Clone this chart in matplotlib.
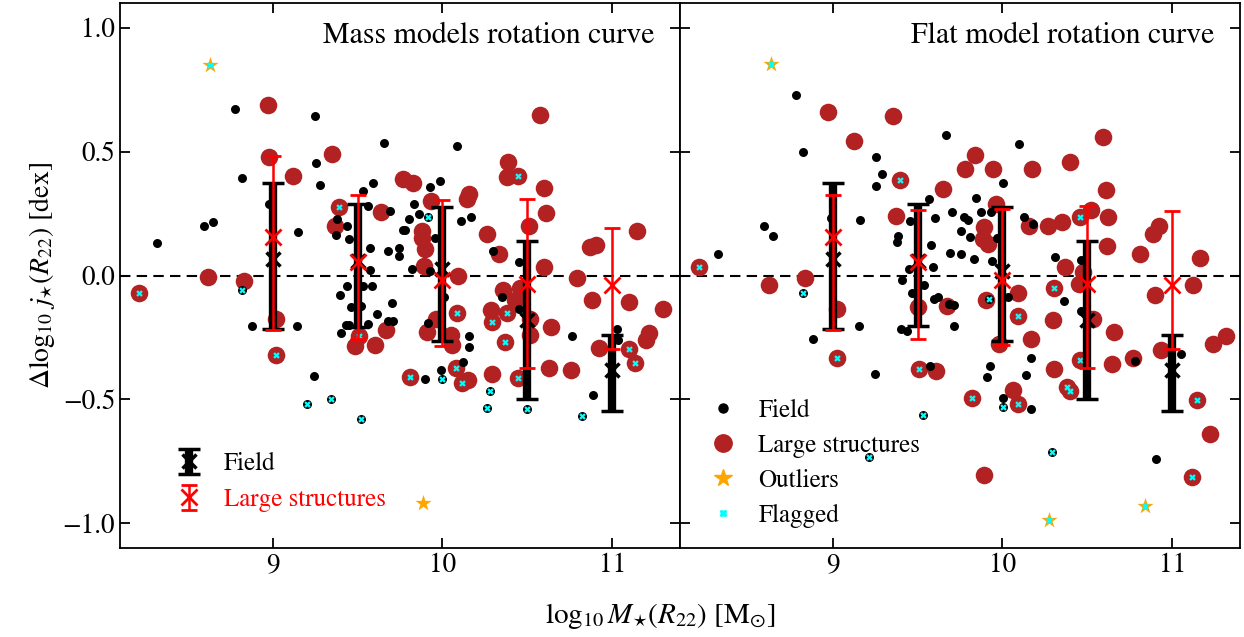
import numpy as np
import matplotlib
matplotlib.use('Agg')
import matplotlib.pyplot as plt
from matplotlib.lines import Line2D

plt.rcParams['font.family'] = 'STIXGeneral'
plt.rcParams['mathtext.fontset'] = 'stix'
plt.rcParams['axes.linewidth'] = 1.3

# ---------------- data: mass models panel ----------------
mm_field_x = [8.32, 8.595, 8.65, 8.78, 8.82, 8.98, 9.15, 8.88, 9.145, 9.246, 9.256, 9.28,
              9.588, 9.53, 9.56, 9.377, 9.44, 9.37, 9.45, 9.69, 9.80, 9.765, 9.78, 9.68,
              9.745, 9.745, 9.57, 9.573, 9.833, 9.86, 9.925, 9.987, 10.11, 10.167, 9.956,
              9.823, 9.927, 10.298, 10.449, 9.44, 9.397, 9.53, 9.585, 9.46, 9.52, 9.70,
              9.616, 9.43, 9.45, 9.40, 9.56, 9.676, 9.706, 9.917, 10.01, 10.155, 10.155,
              10.12, 9.99, 9.897, 9.24, 9.657, 10.085, 10.35, 10.449, 10.765, 11.03,
              11.035, 10.889]
mm_field_y = [0.133, 0.20, 0.215, 0.672, 0.394, 0.29, 0.175, -0.203, -0.204, 0.642, 0.453,
              0.364, 0.375, 0.34, 0.282, 0.228, 0.198, 0.165, 0.148, 0.262, 0.227, 0.183,
              0.183, 0.10, 0.11, 0.077, 0.11, 0.023, 0.289, 0.249, 0.356, 0.38, 0.222, 0.238,
              0.152, 0.027, 0.02, 0.10, 0.054, -0.044, -0.078, -0.044, -0.044, -0.128,
              -0.125, -0.109, -0.157, -0.198, -0.198, -0.232, -0.195, -0.185, -0.185,
              -0.192, -0.085, -0.243, -0.289, -0.35, -0.383, -0.417, -0.405, 0.533, 0.524,
              -0.085, -0.134, -0.246, -0.215, -0.26, -0.484]
mm_fflag_x = [8.82, 9.20, 9.344, 9.52, 9.995, 10.28, 10.263, 9.913, 10.497, 10.824]
mm_fflag_y = [-0.06, -0.52, -0.50, -0.578, -0.417, -0.467, -0.535, 0.238, -0.539, -0.567]

mm_ls_x = [8.975, 8.97, 9.12, 8.62, 8.83, 9.02, 9.35, 9.77, 9.827, 9.93, 10.155, 10.145,
           10.26, 9.637, 9.364, 9.88, 9.88, 9.897, 9.89, 10.089, 10.335, 10.357, 10.283,
           9.67, 9.96, 9.91, 10.048, 10.054, 9.487, 9.60, 10.15, 10.29, 10.386, 10.38,
           10.597, 10.609, 10.507, 10.60, 11.149, 10.869, 10.902, 10.795, 10.458, 10.43,
           10.883, 11.10, 11.30, 10.517, 10.513, 10.64, 11.217, 11.20, 10.92, 10.63,
           10.758, 10.574]
mm_ls_y = [0.477, 0.69, 0.40, -0.007, -0.023, -0.175, 0.49, 0.39, 0.372, 0.30, 0.33, 0.31,
           0.168, 0.255, 0.20, 0.181, 0.152, 0.108, 0.04, -0.004, 0.087, -0.058, -0.141,
           -0.218, -0.175, -0.228, -0.242, -0.282, -0.286, -0.28, -0.42, -0.396, 0.457,
           0.397, 0.354, 0.253, 0.198, 0.036, 0.179, 0.117, 0.125, -0.009, -0.05, -0.10,
           -0.098, -0.107, -0.137, -0.175, -0.242, -0.206, -0.233, -0.26, -0.292, -0.372,
           -0.38, 0.649]
mm_lflag_x = [8.21, 9.02, 9.393, 10.083, 10.289, 9.506, 9.807, 10.077, 10.113, 10.443,
              10.38, 11.098, 11.133, 10.367, 10.445]
mm_lflag_y = [-0.071, -0.319, 0.278, -0.15, -0.188, -0.245, -0.41, -0.372, -0.433, 0.402,
              -0.152, -0.298, -0.354, -0.27, -0.413]
mm_out_x = [8.63, 9.883]
mm_out_y = [0.85, -0.92]
mm_out_flag = [True, False]

# binned medians and spreads
bin_x = [9.0, 9.5, 10.0, 10.5, 11.0]
mm_field_med = [0.067, 0.06, 0.027, -0.181, -0.383]
mm_field_lo = [-0.215, -0.208, -0.266, -0.497, -0.547]
mm_field_hi = [0.372, 0.289, 0.275, 0.141, -0.239]
mm_ls_med = [0.157, 0.054, -0.017, -0.034, -0.04]
mm_ls_lo = [-0.222, -0.258, -0.285, -0.372, -0.297]
mm_ls_hi = [0.484, 0.323, 0.305, 0.309, 0.191]

# ---------------- data: flat model panel ----------------
fl_field_x = [8.324, 8.594, 8.649, 8.784, 8.826, 8.99, 9.16, 9.258, 9.289, 9.254, 9.667,
              10.097, 9.152, 8.886, 9.251, 9.909, 9.928, 10.006, 10.168, 10.139, 10.168,
              10.906, 10.779, 11.053, 10.001, 9.568, 9.454, 9.602, 9.385, 9.378, 9.578,
              9.70, 9.775, 9.798, 9.846, 9.873, 9.932, 9.755, 9.81, 9.692, 9.755, 9.834,
              9.938, 9.968, 10.125, 10.18, 10.312, 9.588, 9.45, 9.407, 9.539, 9.47, 9.621,
              9.598, 9.686, 9.712, 9.405, 9.44, 9.712, 10.031, 9.572, 10.463, 10.365,
              10.463]
fl_field_y = [0.085, 0.20, 0.161, 0.729, 0.50, 0.233, 0.225, 0.477, 0.41, 0.363, 0.569,
              0.531, -0.204, -0.258, -0.399, -0.41, -0.364, -0.495, -0.538, -0.403, -0.332,
              -0.739, -0.345, -0.316, 0.374, 0.309, 0.222, 0.231, 0.161, 0.134, 0.125,
              0.255, 0.238, 0.226, 0.312, 0.258, 0.255, 0.181, 0.157, 0.09, 0.085, 0.067,
              0.058, 0.152, 0.235, 0.206, 0.074, 0.036, 0.027, -0.017, -0.04, -0.071,
              -0.085, -0.094, -0.117, -0.121, -0.215, -0.226, -0.204, -0.087, -0.366,
              0.063, -0.104, -0.145]
fl_fflag_x = [8.823, 9.216, 9.53, 10.006, 10.294, 9.922]
fl_fflag_y = [-0.071, -0.733, -0.562, -0.531, -0.712, -0.094]

fl_ls_x = [8.973, 9.357, 9.125, 10.59, 10.396, 9.841, 9.782, 9.943, 10.174, 10.611, 9.648,
           8.624, 8.835, 9.028, 9.894, 10.062, 10.305, 11.222, 10.769, 10.648, 10.937,
           11.242, 11.316, 9.372, 10.158, 10.267, 9.893, 9.883, 9.913, 9.96, 10.094,
           10.37, 10.296, 10.168, 9.50, 9.673, 9.981, 9.61, 10.349, 10.522, 10.624,
           10.615, 10.473, 10.45, 10.532, 10.656, 10.811, 10.886, 10.92, 11.167, 10.90,
           11.122, 9.905]
fl_ls_y = [0.659, 0.645, 0.544, 0.56, 0.457, 0.488, 0.43, 0.43, 0.43, 0.347, 0.349,
           -0.038, -0.009, -0.134, -0.806, -0.464, -0.379, -0.641, -0.333, -0.359, -0.30,
           -0.276, -0.246, 0.239, 0.198, 0.198, 0.195, 0.148, 0.128, 0.289, -0.071,
           0.036, -0.181, -0.255, -0.128, -0.124, -0.276, -0.386, 0.215, 0.265, 0.238,
           0.121, 0.013, -0.036, -0.175, -0.228, 0.085, 0.168, 0.20, 0.071, -0.078,
           -0.04, -0.10]
fl_lflag_x = [9.399, 8.213, 9.028, 9.82, 10.094, 10.379, 10.396, 11.116, 11.147, 10.302,
              10.09, 9.511, 10.457, 10.46]
fl_lflag_y = [0.387, 0.036, -0.332, -0.493, -0.517, -0.45, -0.468, -0.813, -0.501, -0.051,
              -0.164, -0.379, 0.238, -0.343]
fl_out_x = [8.637, 10.274, 10.838]
fl_out_y = [0.853, -0.985, -0.93]
fl_out_flag = [True, True, True]

fl_field_med = [0.067, 0.06, 0.02, -0.181, -0.383]
fl_field_lo = [-0.215, -0.204, -0.266, -0.497, -0.547]
fl_field_hi = [0.372, 0.289, 0.275, 0.138, -0.239]
fl_ls_med = [0.157, 0.054, -0.017, -0.034, -0.04]
fl_ls_lo = [-0.222, -0.258, -0.282, -0.372, -0.297]
fl_ls_hi = [0.325, 0.265, 0.269, 0.282, 0.262]

LS_COL = '#b22222'
OUT_COL = '#ffa500'
FLAG_COL = '#00ffff'


def draw_panel(ax, d, title):
    ax.axhline(0, color='k', ls='--', lw=1.5, dashes=(5, 3), zorder=1)
    ax.scatter(d['ls_x'] + d['lflag_x'], d['ls_y'] + d['lflag_y'], s=160, c=LS_COL,
               lw=0, zorder=2, label='Large structures')
    ax.scatter(d['field_x'] + d['fflag_x'], d['field_y'] + d['fflag_y'], s=42, c='k',
               lw=0, zorder=3, label='Field')
    ox = np.array(d['out_x'])
    oy = np.array(d['out_y'])
    ax.scatter(ox, oy, s=150, marker='*', c=OUT_COL, lw=0, zorder=4, label='Outliers')
    fx = d['fflag_x'] + d['lflag_x'] + list(ox[np.array(d['out_flag'])])
    fy = d['fflag_y'] + d['lflag_y'] + list(oy[np.array(d['out_flag'])])
    ax.scatter(fx, fy, s=22, marker='X', c=FLAG_COL, lw=0, zorder=5, label='Flagged')

    med = np.array(d['f_med'])
    eb_f = ax.errorbar(bin_x, med, yerr=[med - np.array(d['f_lo']), np.array(d['f_hi']) - med],
                       fmt='x', color='k', ms=10, mew=2.5, elinewidth=6, capsize=8,
                       capthick=6, zorder=6, label='Field')
    med = np.array(d['l_med'])
    eb_l = ax.errorbar(bin_x, med, yerr=[med - np.array(d['l_lo']), np.array(d['l_hi']) - med],
                       fmt='x', color='red', ms=12, mew=2, elinewidth=1.8, capsize=5.5,
                       capthick=1.8, zorder=7, label='Large structures')

    ax.text(0.955, 0.965, title, transform=ax.transAxes, ha='right', va='top', fontsize=21.5)
    ax.set_xlim(8.1, 11.4)
    ax.set_ylim(-1.1, 1.1)
    ax.set_xticks([9, 10, 11])
    ax.set_yticks([-1.0, -0.5, 0.0, 0.5, 1.0])
    ax.tick_params(direction='in', top=True, right=True, length=7, width=1.3, labelsize=19.5)
    return eb_f, eb_l


fig = plt.figure(figsize=(12.44, 6.37), dpi=100)
ax1 = fig.add_axes([0.0965, 0.1397, 0.4502, 0.8556])
ax2 = fig.add_axes([0.5466, 0.1397, 0.4502, 0.8556], sharey=ax1)

mm = dict(field_x=mm_field_x, field_y=mm_field_y, fflag_x=mm_fflag_x, fflag_y=mm_fflag_y,
          ls_x=mm_ls_x, ls_y=mm_ls_y, lflag_x=mm_lflag_x, lflag_y=mm_lflag_y,
          out_x=mm_out_x, out_y=mm_out_y, out_flag=mm_out_flag,
          f_med=mm_field_med, f_lo=mm_field_lo, f_hi=mm_field_hi,
          l_med=mm_ls_med, l_lo=mm_ls_lo, l_hi=mm_ls_hi)
fl = dict(field_x=fl_field_x, field_y=fl_field_y, fflag_x=fl_fflag_x, fflag_y=fl_fflag_y,
          ls_x=fl_ls_x, ls_y=fl_ls_y, lflag_x=fl_lflag_x, lflag_y=fl_lflag_y,
          out_x=fl_out_x, out_y=fl_out_y, out_flag=fl_out_flag,
          f_med=fl_field_med, f_lo=fl_field_lo, f_hi=fl_field_hi,
          l_med=fl_ls_med, l_lo=fl_ls_lo, l_hi=fl_ls_hi)

eb_f, eb_l = draw_panel(ax1, mm, 'Mass models rotation curve')
draw_panel(ax2, fl, 'Flat model rotation curve')
plt.setp(ax2.get_yticklabels(), visible=False)

# left legend: binned errorbars
leg1 = ax1.legend([eb_f, eb_l], ['Field', 'Large structures'], loc='lower left',
                  bbox_to_anchor=(0.06, 0.025), frameon=False, fontsize=18,
                  handlelength=1.0, handletextpad=0.9, labelspacing=0.48)
leg1.get_texts()[1].set_color('red')

# right legend: scatter classes
hand = [Line2D([], [], ls='', marker='o', ms=6.5, color='k'),
        Line2D([], [], ls='', marker='o', ms=12.5, color=LS_COL),
        Line2D([], [], ls='', marker='*', ms=13, color=OUT_COL),
        Line2D([], [], ls='', marker='X', ms=5, color=FLAG_COL)]
ax2.legend(hand, ['Field', 'Large structures', 'Outliers', 'Flagged'], loc='lower left',
           bbox_to_anchor=(0.015, -0.005), frameon=False, fontsize=18, handlelength=1.0,
           handletextpad=0.9, labelspacing=0.44)

ax1.set_ylabel(r'$\Delta\log_{10}\,j_{\star}(R_{22})$ [dex]', fontsize=20)
fig.text(0.531, 0.033, r'$\log_{10}M_{\star}(R_{22})$ [M$_{\odot}$]', ha='center',
         va='center', fontsize=21)

fig.savefig('out.png', dpi=100)
